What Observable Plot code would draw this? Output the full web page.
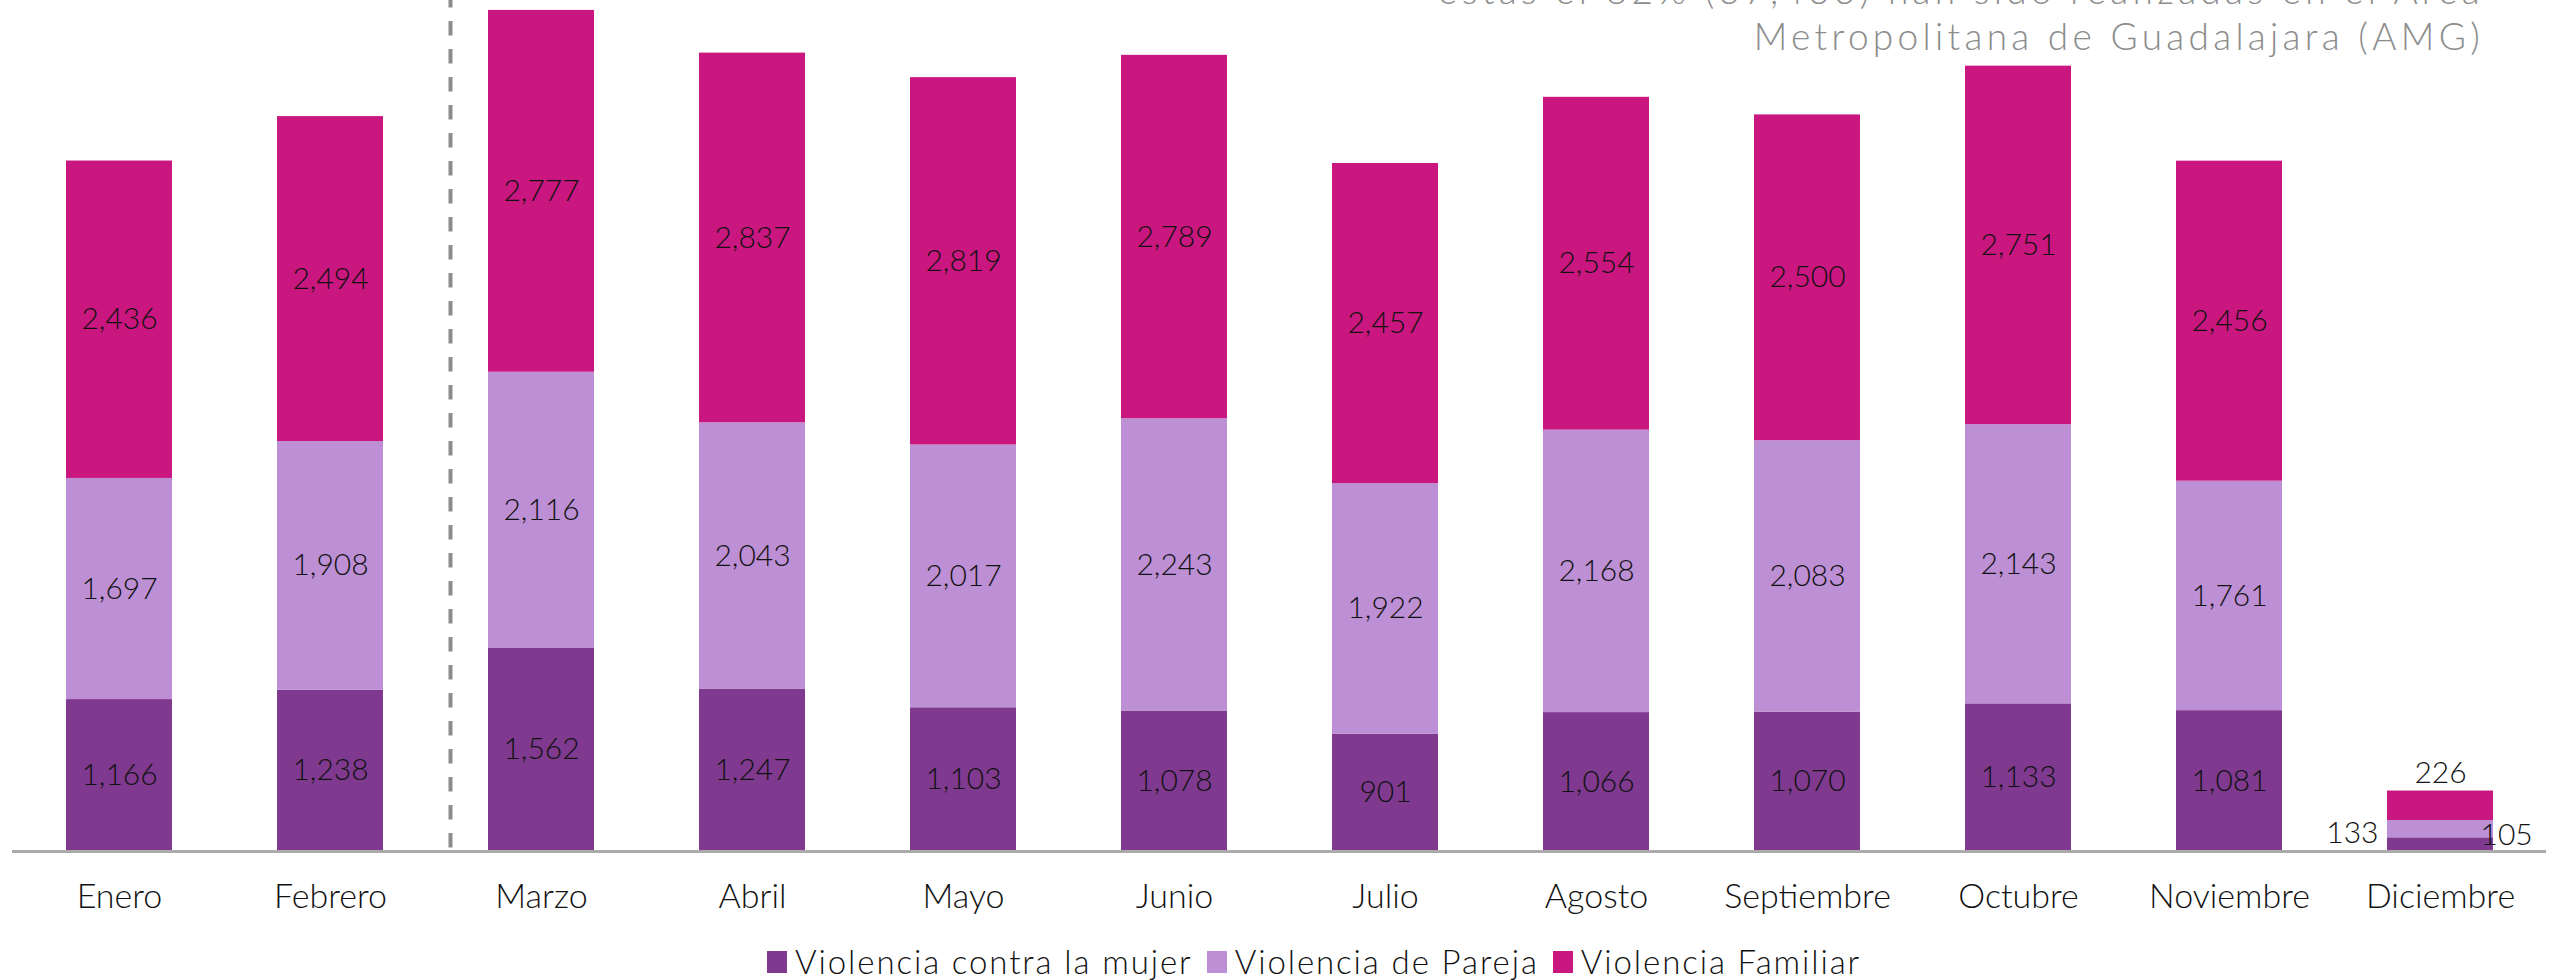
<!DOCTYPE html>
<html>
<head>
<meta charset="utf-8">
<script src="https://cdn.jsdelivr.net/npm/d3@7"></script>
<script src="https://cdn.jsdelivr.net/npm/@observablehq/plot@0.6"></script>
<style>
  html, body { margin: 0; padding: 0; background: #fff; }
  #wrap { position: relative; width: 2557px; height: 980px; overflow: hidden; background: #fff; }
  #chart { position: absolute; left: 0; top: 0; }
  #note { position: absolute; right: 73px; top: -33px; text-align: right; color: #8c8c8c;
          font-family: Lato, "Open Sans", sans-serif; font-weight: 300; font-size: 37px; line-height: 46px; letter-spacing: 4.3px; white-space: nowrap; }
  #legend { position: absolute; left: 767px; top: 945px; display: flex; align-items: center; line-height: 33px;
            font-family: Lato, "Open Sans", sans-serif; font-weight: 300; font-size: 33px; letter-spacing: 1.9px; color: #111; white-space: nowrap; }
  #legend .item { display: flex; align-items: center; margin-right: 14px; }
  #legend .sw { width: 20px; height: 22px; margin-right: 8px; }
</style>
</head>
<body>
<div id="wrap">
  <div id="chart"></div>
  <div id="note">estas el 82% (37,433) han sido realizadas en el Área<br>Metropolitana de Guadalajara (AMG)</div>
  <div id="legend"></div>
</div>
<script>
const months = ["Enero", "Febrero", "Marzo", "Abril", "Mayo", "Junio", "Julio", "Agosto", "Septiembre", "Octubre", "Noviembre", "Diciembre"];
const series = ["Violencia contra la mujer", "Violencia de Pareja", "Violencia Familiar"];
const colors = ["#7f3a8f", "#bd8fd4", "#c9177f"];
const vMujer    = [1166, 1238, 1562, 1247, 1103, 1078, 901, 1066, 1070, 1133, 1081, 105];
const vPareja   = [1697, 1908, 2116, 2043, 2017, 2243, 1922, 2168, 2083, 2143, 1761, 133];
const vFamiliar = [2436, 2494, 2777, 2837, 2819, 2789, 2457, 2554, 2500, 2751, 2456, 226];

const seriesValues = [vMujer, vPareja, vFamiliar];
const data = [];
months.forEach((m, i) => {
  series.forEach((s, j) => data.push({month: m, series: s, value: seriesValues[j][i]}));
});
const fmt = d3.format(",");
const last = months[months.length - 1];
const mainData = data.filter(d => d.month !== last);
const li = months.length - 1;
const decLabels = [
  {month: last, y: vMujer[li] + vPareja[li] + vFamiliar[li], text: vFamiliar[li], pos: "top"},
  {month: last, y: vMujer[li] + vPareja[li] / 2, text: vPareja[li], pos: "left"},
  {month: last, y: vMujer[li] + vPareja[li] / 2, text: vMujer[li], pos: "right"}
];

const font = "Lato, 'Open Sans', sans-serif";
const chart = Plot.plot({
  width: 2557,
  height: 925,
  marginLeft: 12,
  marginRight: 11,
  marginTop: 0,
  marginBottom: 74,
  x: {domain: months, paddingInner: 0.5, paddingOuter: 0.25, label: null},
  y: {domain: [0, 6531], axis: null},
  color: {domain: series, range: colors},
  style: {fontFamily: font, fontSize: "30px", color: "#111", background: "#fff", fontWeight: 300},
  marks: [
    Plot.barY(data, {x: "month", y: "value", fill: "series"}),
    Plot.text(mainData, Plot.stackY({x: "month", y: "value", z: "series", text: d => fmt(d.value), fontSize: 30, fill: "#111"})),
    Plot.text(decLabels.filter(d => d.pos === "top"), {x: "month", y: "y", text: d => fmt(d.text), dy: -18, fontSize: 30, fill: "#111"}),
    Plot.text(decLabels.filter(d => d.pos === "left"), {x: "month", y: "y", text: d => fmt(d.text), dx: -62, dy: 4, textAnchor: "end", fontSize: 30, fill: "#111"}),
    Plot.text(decLabels.filter(d => d.pos === "right"), {x: "month", y: "y", text: d => fmt(d.text), dx: 40, dy: 6, textAnchor: "start", fontSize: 30, fill: "#111"}),
    Plot.ruleY([0], {stroke: "#ababab", strokeWidth: 3}),
    Plot.ruleX([months[2]], {dx: -91, stroke: "#8c8c8c", strokeWidth: 4, strokeDasharray: "14.5,13.5", strokeDashoffset: 7}),
    Plot.axisX({tickSize: 0, tickPadding: 32, fontSize: 34, label: null, fill: "#111", style: {letterSpacing: "0.6px"}})
  ]
});
document.getElementById("chart").appendChild(chart);

const legend = document.getElementById("legend");
series.forEach((s, i) => {
  const item = document.createElement("div");
  item.className = "item";
  const sw = document.createElement("span");
  sw.className = "sw";
  sw.style.background = colors[i];
  const t = document.createElement("span");
  t.textContent = s;
  item.appendChild(sw);
  item.appendChild(t);
  legend.appendChild(item);
});
</script>
</body>
</html>
